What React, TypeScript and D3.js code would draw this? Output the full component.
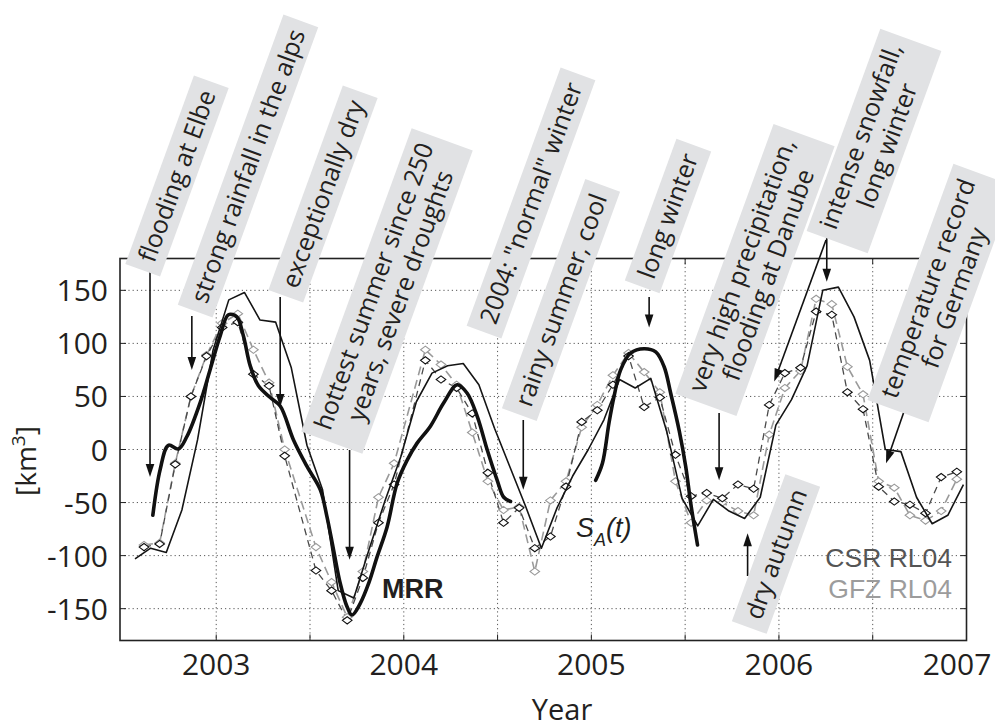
import React, { useEffect, useRef } from 'react';
import * as d3 from 'd3';

// axes
const halfYearTicks = [2003, 2003.5, 2004, 2004.5, 2005, 2005.5, 2006, 2006.5];
const yearTicks = [2003, 2004, 2005, 2006, 2007];
const valueTicks = [-150, -100, -50, 0, 50, 100, 150];

// GRACE monthly solutions, mid-month from Aug 2002 (null = month missing)
const graceStart = 2002.615;
const csrValues = [-92, -89, -14, 50, 88, 115, 120, 71, 60, -6, null, -114, -133, -161, -121, -69, -33, null,
  84, 66, 58, 34, -22, -69, -55, -93, -82, -35, 26, 37, 61, 88, 40, 49, -5, -44, -41, -46,
  -33, -37, 42, 72, 77, 130, 127, 54, 38, -35, -49, -52, -60, -26, -21];
const gfzValues = [-90, -88, -13, 50, 89, 119, 128, 94, 63, 0, null, -92, -125, -158, -115, -45, -13, null,
  94, 80, 61, 16, -30, -57, -54, -115, -48, -30, 21, 42, 70, 91, 73, 54, -30, -69, -48, -50,
  -58, -62, 14, 58, 74, 142, 137, 78, 52, -30, -36, -62, -67, -58, -28];

// S_A(t), monthly
const saStart = 2002.567;
const saValues = [-103, -93, -97, -57, 9, 94, 141, 148, 122, 120, 77, 4, -38, -133, -140, -93, -48, -7, 45, 72,
  79, 81, 61, 20, -17, -54, -93, -55, -25, 0, 28, 66, 58, 67, 18, -46, -72, -47, -58, -65,
  -45, 23, 47, 79, 150, 153, 125, 84, 0, -2, -45, -70, -62, -33];

// MRR, two pieces
const mrr1Years = [2002.662, 2002.701, 2002.745, 2002.798, 2002.843, 2002.914, 2002.967, 2003.021, 2003.065,
  2003.110, 2003.145, 2003.181, 2003.225, 2003.288, 2003.341, 2003.412, 2003.484, 2003.555, 2003.590,
  2003.626, 2003.661, 2003.697, 2003.724, 2003.768, 2003.813, 2003.858, 2003.911, 2003.964, 2004.018,
  2004.071, 2004.142, 2004.213, 2004.285, 2004.338, 2004.392, 2004.445, 2004.498, 2004.533, 2004.569];
const mrr1Values = [-62, -19, 4, 0.5, 12, 44, 75, 107, 127, 125, 107, 79, 60, 49, 41, 9, -16, -38, -63,
  -95, -126, -148, -156, -145, -126, -101, -73, -32, -10, 6, 22, 44, 61, 53, 31, -0.5, -29, -45, -49];
const mrr2Years = [2005.023, 2005.059, 2005.094, 2005.121, 2005.156, 2005.210, 2005.281, 2005.343,
  2005.388, 2005.423, 2005.468, 2005.503, 2005.530, 2005.566];
const mrr2Values = [-29, -13, 25, 50, 75, 91, 95, 92, 78, 53, 18, -16, -51, -90];

type Arrow = { tip: [number, number]; tail: [number | null, number] };
type Note = { lines: string[]; cx: number; cy: number; arrows: Arrow[] };

const notes: Note[] = [
  { lines: ['flooding at Elbe'], cx: 177, cy: 176, arrows: [{ tip: [2002.647, -26], tail: [null, 270] }] },
  { lines: ['strong rainfall in the alps'], cx: 248, cy: 166, arrows: [{ tip: [2002.87, 75], tail: [null, 316] }] },
  { lines: ['exceptionally dry'], cx: 323, cy: 194, arrows: [{ tip: [2003.341, 40], tail: [null, 297] }] },
  { lines: ['hottest summer since 250', 'years, severe droughts'], cx: 387, cy: 291, arrows: [{ tip: [2003.711, -104], tail: [null, 450] }] },
  { lines: ['2004: "normal" winter'], cx: 531, cy: 203, arrows: [] },
  { lines: ['rainy summer, cool'], cx: 561, cy: 300, arrows: [{ tip: [2004.637, -38], tail: [null, 420] }] },
  { lines: ['long winter'], cx: 668, cy: 216, arrows: [{ tip: [2005.308, 115], tail: [null, 297] }] },
  { lines: ['very high precipitation,', 'flooding at Danube'], cx: 755, cy: 270, arrows: [{ tip: [2005.681, -29], tail: [null, 413] }] },
  { lines: ['dry autumn'], cx: 776, cy: 554, arrows: [{ tip: [2005.833, -79], tail: [null, 576] }] },
  { lines: ['intense snowfall,', 'long winter'], cx: 874, cy: 141, arrows: [
    { tip: [2006.255, 158], tail: [null, 238] },
    { tip: [2005.975, 64], tail: [826, 240] }] },
  { lines: ['temperature record', 'for Germany'], cx: 941, cy: 293, arrows: [{ tip: [2006.571, -13], tail: [908, 400] }] },
];

const SANS = "'Open Sans', sans-serif";
const ARIAL = "'Liberation Sans', Arial, sans-serif";

export default function App() {
  const ref = useRef<SVGSVGElement>(null);

  useEffect(() => {
    const svg = d3.select(ref.current);
    svg.selectAll('*').remove();

    const x = d3.scaleLinear().domain([2002.487, 2007]).range([120, 966.5]);
    const y = d3.scaleLinear().domain([-180, 180]).range([640.5, 258.5]);
    const [x0, x1] = x.range();
    const [y0, y1] = y.range();

    svg.append('rect').attr('width', 995).attr('height', 727).attr('fill', '#fff');

    // grid
    const grid = svg.append('g').attr('stroke', '#444').attr('stroke-width', 0.9).attr('stroke-dasharray', '1.2,3');
    grid.selectAll('.gx').data(halfYearTicks).enter().append('line')
      .attr('x1', d => x(d)).attr('x2', d => x(d)).attr('y1', y1).attr('y2', y0);
    grid.selectAll('.gy').data(valueTicks).enter().append('line')
      .attr('y1', d => y(d)).attr('y2', d => y(d)).attr('x1', x0).attr('x2', x1);

    // ticks inside the frame
    const ticks = svg.append('g').attr('stroke', '#222').attr('stroke-width', 1);
    halfYearTicks.forEach(t => {
      ticks.append('line').attr('x1', x(t)).attr('x2', x(t)).attr('y1', y0).attr('y2', y0 - 6);
      ticks.append('line').attr('x1', x(t)).attr('x2', x(t)).attr('y1', y1).attr('y2', y1 + 6);
    });
    valueTicks.forEach(t => {
      ticks.append('line').attr('y1', y(t)).attr('y2', y(t)).attr('x1', x0).attr('x2', x0 + 6);
      ticks.append('line').attr('y1', y(t)).attr('y2', y(t)).attr('x1', x1).attr('x2', x1 - 6);
    });

    // tick labels (last one kept inside the page, as in the original)
    svg.append('g').selectAll('text').data(yearTicks).enter().append('text')
      .attr('x', d => Math.min(x(d), 957)).attr('y', 675).attr('text-anchor', 'middle')
      .attr('font-family', SANS).attr('font-size', 30).attr('fill', '#231f20')
      .text(d => d);
    svg.append('g').selectAll('text').data(valueTicks).enter().append('text')
      .attr('x', 108).attr('y', d => y(d) + 11).attr('text-anchor', 'end')
      .attr('font-family', SANS).attr('font-size', 30).attr('fill', '#231f20')
      .text(d => d);

    svg.append('text').attr('x', 562).attr('y', 720).attr('text-anchor', 'middle')
      .attr('font-family', SANS).attr('font-size', 29).attr('fill', '#231f20').text('Year');

    const yl = svg.append('text').attr('transform', 'translate(36,461) rotate(-90)')
      .attr('text-anchor', 'middle').attr('font-family', SANS).attr('font-size', 28).attr('fill', '#231f20');
    yl.append('tspan').text('[km');
    yl.append('tspan').attr('font-size', 19).attr('dy', -11).text('3');
    yl.append('tspan').attr('dy', 11).text(']');

    const clip = svg.append('clipPath').attr('id', 'plotclip');
    clip.append('rect').attr('x', x0).attr('y', y1).attr('width', x1 - x0).attr('height', y0 - y1);
    const plot = svg.append('g').attr('clip-path', 'url(#plotclip)');

    type P = { t: number; v: number };
    const toPts = (start: number, vals: (number | null)[]): P[] =>
      vals.map((v, i) => ({ t: start + i / 12, v: v as number })).filter(p => p.v !== null);

    const lin = d3.line<P>().x(d => x(d.t)).y(d => y(d.v));
    const smooth = d3.line<P>().x(d => x(d.t)).y(d => y(d.v)).curve(d3.curveCatmullRom.alpha(0.5));

    const gfz = toPts(graceStart, gfzValues);
    const csr = toPts(graceStart, csrValues);
    const sa = toPts(saStart, saValues);

    plot.append('path').datum(gfz).attr('d', lin).attr('fill', 'none')
      .attr('stroke', '#9a9a9a').attr('stroke-width', 1.6).attr('stroke-dasharray', '9,5');
    plot.append('path').datum(csr).attr('d', lin).attr('fill', 'none')
      .attr('stroke', '#4a4a4a').attr('stroke-width', 1.3).attr('stroke-dasharray', '7,5');

    const diamond = 'M0,-3.6L4.8,0L0,3.6L-4.8,0Z';
    plot.append('g').selectAll('path').data(gfz).enter().append('path')
      .attr('d', diamond).attr('transform', d => `translate(${x(d.t)},${y(d.v)})`)
      .attr('fill', '#fff').attr('stroke', '#9a9a9a').attr('stroke-width', 1.1);
    plot.append('g').selectAll('path').data(csr).enter().append('path')
      .attr('d', diamond).attr('transform', d => `translate(${x(d.t)},${y(d.v)})`)
      .attr('fill', '#fff').attr('stroke', '#111').attr('stroke-width', 1.1);

    plot.append('path').datum(sa).attr('d', lin).attr('fill', 'none')
      .attr('stroke', '#151515').attr('stroke-width', 1.6).attr('stroke-linejoin', 'round');

    const mrr1 = mrr1Years.map((t, i) => ({ t, v: mrr1Values[i] }));
    const mrr2 = mrr2Years.map((t, i) => ({ t, v: mrr2Values[i] }));
    [mrr1, mrr2].forEach(seg => {
      plot.append('path').datum(seg).attr('d', smooth).attr('fill', 'none')
        .attr('stroke', '#111').attr('stroke-width', 3.6).attr('stroke-linecap', 'round');
    });

    // frame
    svg.append('rect').attr('x', x0).attr('y', y1).attr('width', x1 - x0).attr('height', y0 - y1)
      .attr('fill', 'none').attr('stroke', '#222').attr('stroke-width', 1.6);

    // in-plot labels
    svg.append('text').attr('x', 382).attr('y', 598).attr('font-family', ARIAL).attr('font-weight', 'bold')
      .attr('font-size', 27).attr('fill', '#231f20').text('MRR');
    const sLab = svg.append('text').attr('x', 576).attr('y', 537).attr('font-family', ARIAL)
      .attr('font-style', 'italic').attr('font-size', 27).attr('fill', '#231f20');
    sLab.append('tspan').text('S');
    sLab.append('tspan').attr('font-size', 18).attr('dy', 9).text('A');
    sLab.append('tspan').attr('dy', -9).text('(t)');
    svg.append('text').attr('x', 952).attr('y', 567).attr('text-anchor', 'end').attr('font-family', ARIAL)
      .attr('font-size', 26.5).attr('fill', '#555').text('CSR RL04');
    svg.append('text').attr('x', 952).attr('y', 598).attr('text-anchor', 'end').attr('font-family', ARIAL)
      .attr('font-size', 26.5).attr('fill', '#9c9c9c').text('GFZ RL04');

    // annotation arrows
    const arrowG = svg.append('g');
    notes.forEach(n => n.arrows.forEach(a => {
      const tx = x(a.tip[0]), ty = y(a.tip[1]);
      const sx = a.tail[0] === null ? tx : a.tail[0], sy = a.tail[1];
      const len = Math.hypot(tx - sx, ty - sy);
      const ux = (tx - sx) / len, uy = (ty - sy) / len;
      const hl = 13, hw = 4.3;
      arrowG.append('line').attr('x1', sx).attr('y1', sy).attr('x2', tx - ux * hl * 0.8).attr('y2', ty - uy * hl * 0.8)
        .attr('stroke', '#111').attr('stroke-width', 1.6);
      const bx = tx - ux * hl, by = ty - uy * hl;
      arrowG.append('path')
        .attr('d', `M${tx},${ty}L${bx - uy * hw},${by + ux * hw}L${bx + uy * hw},${by - ux * hw}Z`)
        .attr('fill', '#111');
    }));

    // annotation boxes
    const lineH = 28, pad = 10, fs = 25;
    notes.forEach(n => {
      const g = svg.append('g').attr('transform', `translate(${n.cx},${n.cy}) rotate(-70)`);
      const rect = g.append('rect').attr('fill', '#e1e2e4');
      let w = 0;
      n.lines.forEach((l, i) => {
        const t = g.append('text').attr('x', 0).attr('y', (i - (n.lines.length - 1) / 2) * lineH)
          .attr('dy', '0.35em').attr('text-anchor', 'middle')
          .attr('font-family', SANS).attr('font-size', fs).attr('fill', '#231f20').text(l);
        w = Math.max(w, (t.node() as SVGTextElement).getComputedTextLength());
      });
      const h = n.lines.length * lineH + 9;
      rect.attr('x', -w / 2 - pad).attr('width', w + 2 * pad).attr('y', -h / 2).attr('height', h);
    });
  }, []);

  return <svg ref={ref} width={995} height={727} style={{ position: 'absolute', left: 0, top: 0 }} />;
}
